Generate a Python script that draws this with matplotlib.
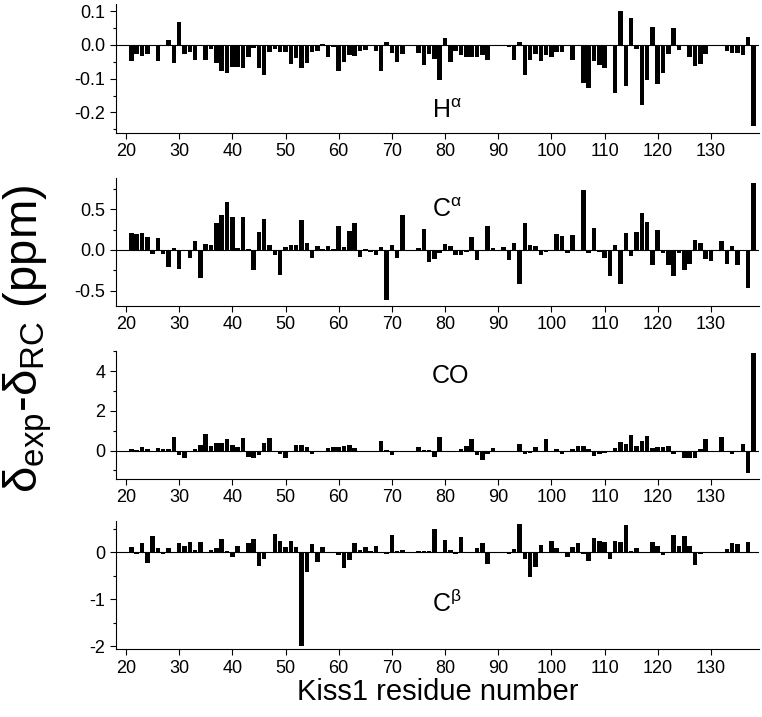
import matplotlib
matplotlib.use('Agg')
import matplotlib.pyplot as plt
from matplotlib.ticker import MultipleLocator
import numpy as np

plt.rcParams['font.family'] = ['Liberation Sans', 'DejaVu Sans']
plt.rcParams['mathtext.fontset'] = 'custom'
plt.rcParams['mathtext.rm'] = 'Liberation Sans'
plt.rcParams['mathtext.it'] = 'Liberation Sans:italic'
plt.rcParams['mathtext.bf'] = 'Liberation Sans:bold'
plt.rcParams['axes.unicode_minus'] = False

# residues 21..138
residues = np.arange(21, 139)

ha = [-0.047, -0.028, -0.034, -0.028, 0.0, -0.047, -0.003, 0.014, -0.053, 0.069,
      -0.027, -0.022, -0.044, 0.0, -0.046, -0.012, -0.054, -0.076, -0.083, -0.064,
      -0.064, -0.068, -0.036, -0.010, -0.067, -0.088, -0.021, -0.013, -0.022, -0.022,
      -0.057, -0.040, -0.068, -0.054, -0.020, -0.017, 0.003, -0.036, -0.007, -0.077,
      -0.052, -0.030, -0.032, -0.018, -0.015, 0.0, -0.017, -0.076, 0.008, -0.023,
      -0.051, -0.027, 0.0, 0.0, -0.025, -0.059, -0.027, -0.041, -0.105, 0.020,
      -0.051, -0.017, -0.030, -0.036, -0.036, -0.036, -0.030, -0.045, 0.0, 0.0,
      0.0, -0.007, -0.044, 0.010, -0.090, -0.044, -0.027, -0.049, -0.030, -0.036,
      -0.022, -0.022, -0.003, -0.045, 0.0, -0.113, -0.128, -0.049, -0.060, -0.067,
      0.0, -0.143, 0.101, -0.121, 0.081, -0.013, -0.177, -0.105, 0.052, -0.115,
      -0.082, -0.027, 0.049, -0.015, 0.0, -0.036, -0.061, -0.056, -0.027, 0.0,
      0.0, 0.0, -0.017, -0.025, -0.025, -0.031, 0.023, -0.241]

ca = [0.215, 0.20, 0.21, 0.16, -0.045, 0.15, -0.054, -0.215, 0.03, -0.24,
      0.0, -0.10, 0.115, -0.35, 0.07, 0.06, 0.33, 0.43, 0.59, 0.41,
      0.03, 0.40, 0.01, -0.25, 0.22, 0.385, 0.055, -0.06, -0.305, 0.04,
      0.065, 0.065, 0.37, 0.087, -0.10, 0.054, 0.017, 0.045, 0.017, 0.30,
      0.04, 0.235, 0.335, -0.087, 0.017, -0.025, -0.062, 0.037, -0.615, 0.06,
      -0.095, 0.425, 0.0, 0.0, 0.025, 0.26, -0.145, -0.107, -0.037, 0.078,
      0.054, -0.062, -0.062, -0.02, 0.16, -0.12, 0.0, 0.30, 0.02, 0.0,
      0.037, -0.12, 0.087, -0.42, 0.335, 0.06, 0.05, -0.058, -0.02, -0.01,
      0.20, 0.17, -0.04, 0.185, 0.0, 0.74, -0.037, 0.27, -0.03, -0.095,
      -0.32, 0.06, -0.42, 0.205, -0.07, 0.225, 0.46, 0.34, -0.185, 0.25,
      -0.037, -0.18, -0.325, -0.037, -0.25, -0.17, 0.124, 0.09, -0.11, -0.13,
      0.0, 0.115, -0.17, 0.054, -0.19, 0.0, -0.47, 0.82]

co = [0.07, 0.05, 0.18, 0.08, -0.08, 0.13, 0.08, 0.08, 0.70, -0.20,
      -0.39, -0.08, 0.07, 0.27, 0.82, 0.22, 0.39, 0.39, 0.59, 0.29,
      0.18, 0.66, -0.34, -0.35, -0.20, 0.40, 0.66, -0.08, -0.18, -0.37,
      0.0, 0.27, 0.27, 0.17, -0.18, -0.08, -0.08, 0.13, 0.20, 0.20,
      0.22, 0.27, 0.12, -0.05, -0.02, -0.03, -0.02, 0.49, 0.05, -0.22,
      -0.08, 0.0, 0.0, 0.0, 0.17, 0.05, 0.03, -0.32, 0.70, 0.0,
      0.0, -0.07, 0.07, 0.22, 0.60, -0.20, -0.47, -0.15, 0.12, 0.0,
      -0.02, -0.02, 0.0, 0.32, -0.17, -0.13, 0.17, 0.0, 0.60, -0.08,
      0.07, -0.15, 0.0, 0.10, 0.22, 0.22, 0.08, -0.29, -0.15, -0.13,
      -0.07, 0.13, 0.45, 0.35, 0.77, 0.25, 0.47, 0.76, 0.15, 0.18,
      0.20, 0.25, -0.17, -0.08, -0.39, -0.39, -0.39, 0.08, 0.59, -0.08,
      0.0, 0.70, 0.0, -0.18, -0.08, 0.35, -1.15, 4.94]

cb = [0.12, -0.03, 0.19, -0.22, 0.35, 0.10, -0.03, 0.10, 0.0, 0.19,
      0.14, 0.23, 0.06, 0.22, 0.0, 0.06, 0.10, 0.29, 0.035, -0.10,
      0.14, 0.0, 0.19, 0.29, -0.29, -0.15, 0.0, 0.39, 0.25, 0.11,
      0.25, 0.12, -2.0, -0.41, 0.18, -0.20, 0.12, -0.01, -0.01, -0.06,
      -0.33, -0.17, 0.20, 0.06, 0.11, 0.02, 0.14, 0.0, -0.035, 0.36,
      0.02, 0.06, 0.0, 0.0, 0.035, 0.035, 0.035, 0.50, 0.0, 0.27,
      0.05, -0.03, 0.32, 0.01, 0.0, 0.09, 0.19, -0.24, 0.0, 0.0,
      0.0, -0.03, 0.065, 0.60, -0.14, -0.52, -0.31, 0.16, 0.0, 0.25,
      0.09, 0.015, -0.10, 0.11, 0.19, -0.03, -0.19, 0.30, 0.24, 0.22,
      -0.14, 0.25, 0.22, 0.59, 0.02, 0.09, 0.01, 0.0, 0.22, 0.14,
      -0.06, 0.0, 0.37, 0.14, 0.34, 0.14, -0.28, -0.035, 0.0, 0.0,
      0.0, 0.0, 0.065, 0.21, 0.18, 0.0, 0.23, 0.0]

panels = [
    (ha, 'H$^{\\mathrm{α}}$', (-0.26, 0.12), 0.1, 0.05, -0.215, '%.1f'),
    (ca, 'C$^{\\mathrm{α}}$', (-0.69, 0.89), 0.5, 0.25, 0.40, '%.1f'),
    (co, 'CO', (-1.43, 5.04), 2, 1, 3.41, '%d'),
    (cb, 'C$^{\\mathrm{β}}$', (-2.07, 0.67), 1, 0.5, -1.27, '%d'),
]
bottoms = [0.8149, 0.5732, 0.3319, 0.0944]

fig = plt.figure(figsize=(7.62, 7.17), dpi=100)

for (vals, label, ylim, major, minor, label_y, fmt), b in zip(panels, bottoms):
    ax = fig.add_axes([0.1522, b, 0.8438, 0.179])
    ax.bar(residues, vals, width=0.85, color='black', linewidth=0)
    ax.axhline(0, color='black', lw=0.8)
    ax.set_xlim(18.12, 139.03)
    ax.set_ylim(*ylim)
    ax.spines['top'].set_visible(False)
    ax.spines['right'].set_visible(False)
    ax.set_xticks(np.arange(20, 131, 10))
    ax.yaxis.set_major_locator(MultipleLocator(major))
    ax.yaxis.set_minor_locator(MultipleLocator(minor))
    ax.yaxis.set_major_formatter(plt.FormatStrFormatter(fmt))
    ax.tick_params(axis='both', which='major', labelsize=13, length=4, width=0.8)
    ax.tick_params(axis='y', which='minor', length=2.5, width=0.8)
    ax.text(77.5, label_y, label, fontsize=18, ha='left', va='baseline')

fig.text(0.036, 0.527, '$\\mathrm{δ_{exp}}$-$\\mathrm{δ_{RC}}$ (ppm)',
         rotation=90, ha='center', va='center', fontsize=34)
fig.text(0.574, 0.035, 'Kiss1 residue number', ha='center', va='center', fontsize=21)

fig.savefig('out.png', dpi=100)
